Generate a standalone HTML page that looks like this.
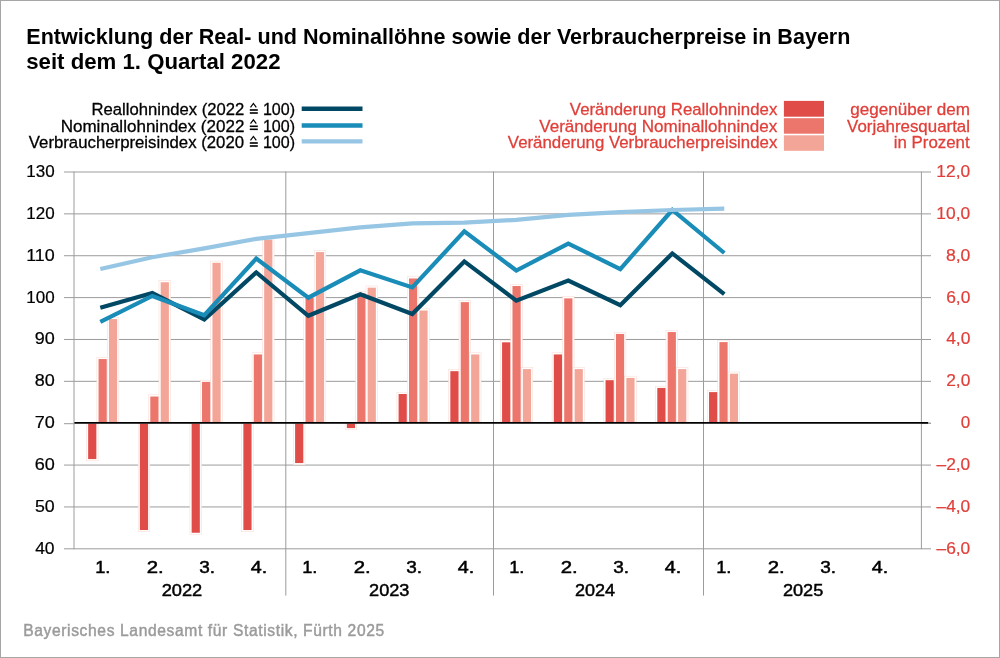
<!DOCTYPE html><html><head><meta charset="utf-8"><style>html,body{margin:0;padding:0;background:#fff;overflow:hidden;}svg{display:block;will-change:transform;} text{font-family:"Liberation Sans", sans-serif;}</style></head><body>
<svg width="1000" height="658" viewBox="0 0 1000 658">
<rect x="0" y="0" width="1000" height="658" fill="#fff"/>
<rect x="0.5" y="0.5" width="999" height="657" fill="none" stroke="#a6a6a6" stroke-width="1"/>
<line x1="74" y1="172.00" x2="921.4" y2="172.00" stroke="#9c9c9c" stroke-width="1"/>
<line x1="64" y1="172.00" x2="74" y2="172.00" stroke="#9c9c9c" stroke-width="1"/>
<line x1="921.4" y1="172.00" x2="931" y2="172.00" stroke="#9c9c9c" stroke-width="1"/>
<line x1="74" y1="213.87" x2="921.4" y2="213.87" stroke="#9c9c9c" stroke-width="1"/>
<line x1="64" y1="213.87" x2="74" y2="213.87" stroke="#9c9c9c" stroke-width="1"/>
<line x1="921.4" y1="213.87" x2="931" y2="213.87" stroke="#9c9c9c" stroke-width="1"/>
<line x1="74" y1="255.73" x2="921.4" y2="255.73" stroke="#9c9c9c" stroke-width="1"/>
<line x1="64" y1="255.73" x2="74" y2="255.73" stroke="#9c9c9c" stroke-width="1"/>
<line x1="921.4" y1="255.73" x2="931" y2="255.73" stroke="#9c9c9c" stroke-width="1"/>
<line x1="74" y1="297.60" x2="921.4" y2="297.60" stroke="#9c9c9c" stroke-width="1"/>
<line x1="64" y1="297.60" x2="74" y2="297.60" stroke="#9c9c9c" stroke-width="1"/>
<line x1="921.4" y1="297.60" x2="931" y2="297.60" stroke="#9c9c9c" stroke-width="1"/>
<line x1="74" y1="339.47" x2="921.4" y2="339.47" stroke="#9c9c9c" stroke-width="1"/>
<line x1="64" y1="339.47" x2="74" y2="339.47" stroke="#9c9c9c" stroke-width="1"/>
<line x1="921.4" y1="339.47" x2="931" y2="339.47" stroke="#9c9c9c" stroke-width="1"/>
<line x1="74" y1="381.34" x2="921.4" y2="381.34" stroke="#9c9c9c" stroke-width="1"/>
<line x1="64" y1="381.34" x2="74" y2="381.34" stroke="#9c9c9c" stroke-width="1"/>
<line x1="921.4" y1="381.34" x2="931" y2="381.34" stroke="#9c9c9c" stroke-width="1"/>
<line x1="64" y1="423.70" x2="74" y2="423.70" stroke="#9c9c9c" stroke-width="1"/>
<line x1="921.4" y1="423.20" x2="931" y2="423.20" stroke="#9c9c9c" stroke-width="1"/>
<line x1="74" y1="465.07" x2="921.4" y2="465.07" stroke="#9c9c9c" stroke-width="1"/>
<line x1="64" y1="465.07" x2="74" y2="465.07" stroke="#9c9c9c" stroke-width="1"/>
<line x1="921.4" y1="465.07" x2="931" y2="465.07" stroke="#9c9c9c" stroke-width="1"/>
<line x1="74" y1="506.94" x2="921.4" y2="506.94" stroke="#9c9c9c" stroke-width="1"/>
<line x1="64" y1="506.94" x2="74" y2="506.94" stroke="#9c9c9c" stroke-width="1"/>
<line x1="921.4" y1="506.94" x2="931" y2="506.94" stroke="#9c9c9c" stroke-width="1"/>
<line x1="74" y1="548.80" x2="921.4" y2="548.80" stroke="#9c9c9c" stroke-width="1"/>
<line x1="64" y1="548.80" x2="74" y2="548.80" stroke="#9c9c9c" stroke-width="1"/>
<line x1="921.4" y1="548.80" x2="931" y2="548.80" stroke="#9c9c9c" stroke-width="1"/>
<line x1="74" y1="171.5" x2="74" y2="549.2" stroke="#9c9c9c" stroke-width="1"/>
<line x1="921.4" y1="171.5" x2="921.4" y2="549.2" stroke="#9c9c9c" stroke-width="1"/>
<line x1="285.8" y1="171.5" x2="285.8" y2="595.6" stroke="#9c9c9c" stroke-width="1"/>
<line x1="493.5" y1="171.5" x2="493.5" y2="595.6" stroke="#9c9c9c" stroke-width="1"/>
<line x1="703.5" y1="171.5" x2="703.5" y2="595.6" stroke="#9c9c9c" stroke-width="1"/>
<rect x="86.45" y="423.70" width="11.60" height="37.09" fill="#fff" stroke="#f9dbd3" stroke-width="0.55"/>
<rect x="96.85" y="357.35" width="11.60" height="64.65" fill="#fff" stroke="#f9dbd3" stroke-width="0.55"/>
<rect x="107.25" y="317.38" width="11.60" height="104.62" fill="#fff" stroke="#f9dbd3" stroke-width="0.55"/>
<rect x="138.19" y="423.70" width="11.60" height="108.04" fill="#fff" stroke="#f9dbd3" stroke-width="0.55"/>
<rect x="148.59" y="394.82" width="11.60" height="27.18" fill="#fff" stroke="#f9dbd3" stroke-width="0.55"/>
<rect x="158.99" y="280.54" width="11.60" height="141.46" fill="#fff" stroke="#f9dbd3" stroke-width="0.55"/>
<rect x="189.93" y="423.70" width="11.60" height="110.76" fill="#fff" stroke="#f9dbd3" stroke-width="0.55"/>
<rect x="200.33" y="380.17" width="11.60" height="41.83" fill="#fff" stroke="#f9dbd3" stroke-width="0.55"/>
<rect x="210.73" y="261.08" width="11.60" height="160.92" fill="#fff" stroke="#f9dbd3" stroke-width="0.55"/>
<rect x="241.67" y="423.70" width="11.60" height="108.04" fill="#fff" stroke="#f9dbd3" stroke-width="0.55"/>
<rect x="252.07" y="352.75" width="11.60" height="69.25" fill="#fff" stroke="#f9dbd3" stroke-width="0.55"/>
<rect x="262.47" y="237.84" width="11.60" height="184.16" fill="#fff" stroke="#f9dbd3" stroke-width="0.55"/>
<rect x="293.41" y="423.70" width="11.60" height="41.07" fill="#fff" stroke="#f9dbd3" stroke-width="0.55"/>
<rect x="303.81" y="295.82" width="11.60" height="126.18" fill="#fff" stroke="#f9dbd3" stroke-width="0.55"/>
<rect x="314.21" y="250.40" width="11.60" height="171.60" fill="#fff" stroke="#f9dbd3" stroke-width="0.55"/>
<rect x="345.15" y="423.70" width="11.60" height="6.11" fill="#fff" stroke="#f9dbd3" stroke-width="0.55"/>
<rect x="355.55" y="291.63" width="11.60" height="130.37" fill="#fff" stroke="#f9dbd3" stroke-width="0.55"/>
<rect x="365.95" y="285.98" width="11.60" height="136.02" fill="#fff" stroke="#f9dbd3" stroke-width="0.55"/>
<rect x="396.89" y="392.31" width="11.60" height="29.69" fill="#fff" stroke="#f9dbd3" stroke-width="0.55"/>
<rect x="407.29" y="276.77" width="11.60" height="145.23" fill="#fff" stroke="#f9dbd3" stroke-width="0.55"/>
<rect x="417.69" y="308.80" width="11.60" height="113.20" fill="#fff" stroke="#f9dbd3" stroke-width="0.55"/>
<rect x="448.63" y="369.49" width="11.60" height="52.51" fill="#fff" stroke="#f9dbd3" stroke-width="0.55"/>
<rect x="459.03" y="300.42" width="11.60" height="121.58" fill="#fff" stroke="#f9dbd3" stroke-width="0.55"/>
<rect x="469.43" y="352.75" width="11.60" height="69.25" fill="#fff" stroke="#f9dbd3" stroke-width="0.55"/>
<rect x="500.37" y="340.61" width="11.60" height="81.39" fill="#fff" stroke="#f9dbd3" stroke-width="0.55"/>
<rect x="510.77" y="284.31" width="11.60" height="137.69" fill="#fff" stroke="#f9dbd3" stroke-width="0.55"/>
<rect x="521.17" y="367.40" width="11.60" height="54.60" fill="#fff" stroke="#f9dbd3" stroke-width="0.55"/>
<rect x="552.11" y="352.75" width="11.60" height="69.25" fill="#fff" stroke="#f9dbd3" stroke-width="0.55"/>
<rect x="562.51" y="296.66" width="11.60" height="125.34" fill="#fff" stroke="#f9dbd3" stroke-width="0.55"/>
<rect x="572.91" y="367.40" width="11.60" height="54.60" fill="#fff" stroke="#f9dbd3" stroke-width="0.55"/>
<rect x="603.85" y="378.49" width="11.60" height="43.51" fill="#fff" stroke="#f9dbd3" stroke-width="0.55"/>
<rect x="614.25" y="332.24" width="11.60" height="89.76" fill="#fff" stroke="#f9dbd3" stroke-width="0.55"/>
<rect x="624.65" y="376.19" width="11.60" height="45.81" fill="#fff" stroke="#f9dbd3" stroke-width="0.55"/>
<rect x="655.59" y="386.24" width="11.60" height="35.76" fill="#fff" stroke="#f9dbd3" stroke-width="0.55"/>
<rect x="665.99" y="330.35" width="11.60" height="91.65" fill="#fff" stroke="#f9dbd3" stroke-width="0.55"/>
<rect x="676.39" y="367.40" width="11.60" height="54.60" fill="#fff" stroke="#f9dbd3" stroke-width="0.55"/>
<rect x="707.33" y="390.42" width="11.60" height="31.58" fill="#fff" stroke="#f9dbd3" stroke-width="0.55"/>
<rect x="717.73" y="340.40" width="11.60" height="81.60" fill="#fff" stroke="#f9dbd3" stroke-width="0.55"/>
<rect x="728.13" y="372.01" width="11.60" height="49.99" fill="#fff" stroke="#f9dbd3" stroke-width="0.55"/>
<rect x="88.15" y="423.70" width="8.20" height="35.39" fill="#e04c48"/>
<rect x="98.55" y="359.05" width="8.20" height="62.95" fill="#ec766c"/>
<rect x="108.95" y="319.08" width="8.20" height="102.92" fill="#f3a598"/>
<rect x="139.89" y="423.70" width="8.20" height="106.34" fill="#e04c48"/>
<rect x="150.29" y="396.52" width="8.20" height="25.48" fill="#ec766c"/>
<rect x="160.69" y="282.24" width="8.20" height="139.76" fill="#f3a598"/>
<rect x="191.63" y="423.70" width="8.20" height="109.06" fill="#e04c48"/>
<rect x="202.03" y="381.87" width="8.20" height="40.13" fill="#ec766c"/>
<rect x="212.43" y="262.78" width="8.20" height="159.22" fill="#f3a598"/>
<rect x="243.37" y="423.70" width="8.20" height="106.34" fill="#e04c48"/>
<rect x="253.77" y="354.45" width="8.20" height="67.55" fill="#ec766c"/>
<rect x="264.17" y="239.54" width="8.20" height="182.46" fill="#f3a598"/>
<rect x="295.11" y="423.70" width="8.20" height="39.37" fill="#e04c48"/>
<rect x="305.51" y="297.52" width="8.20" height="124.48" fill="#ec766c"/>
<rect x="315.91" y="252.10" width="8.20" height="169.90" fill="#f3a598"/>
<rect x="346.85" y="423.70" width="8.20" height="4.41" fill="#e04c48"/>
<rect x="357.25" y="293.33" width="8.20" height="128.67" fill="#ec766c"/>
<rect x="367.65" y="287.68" width="8.20" height="134.32" fill="#f3a598"/>
<rect x="398.59" y="394.01" width="8.20" height="27.99" fill="#e04c48"/>
<rect x="408.99" y="278.47" width="8.20" height="143.53" fill="#ec766c"/>
<rect x="419.39" y="310.50" width="8.20" height="111.50" fill="#f3a598"/>
<rect x="450.33" y="371.19" width="8.20" height="50.81" fill="#e04c48"/>
<rect x="460.73" y="302.12" width="8.20" height="119.88" fill="#ec766c"/>
<rect x="471.13" y="354.45" width="8.20" height="67.55" fill="#f3a598"/>
<rect x="502.07" y="342.31" width="8.20" height="79.69" fill="#e04c48"/>
<rect x="512.47" y="286.01" width="8.20" height="135.99" fill="#ec766c"/>
<rect x="522.87" y="369.10" width="8.20" height="52.90" fill="#f3a598"/>
<rect x="553.81" y="354.45" width="8.20" height="67.55" fill="#e04c48"/>
<rect x="564.21" y="298.36" width="8.20" height="123.64" fill="#ec766c"/>
<rect x="574.61" y="369.10" width="8.20" height="52.90" fill="#f3a598"/>
<rect x="605.55" y="380.19" width="8.20" height="41.81" fill="#e04c48"/>
<rect x="615.95" y="333.94" width="8.20" height="88.06" fill="#ec766c"/>
<rect x="626.35" y="377.89" width="8.20" height="44.11" fill="#f3a598"/>
<rect x="657.29" y="387.94" width="8.20" height="34.06" fill="#e04c48"/>
<rect x="667.69" y="332.05" width="8.20" height="89.95" fill="#ec766c"/>
<rect x="678.09" y="369.10" width="8.20" height="52.90" fill="#f3a598"/>
<rect x="709.03" y="392.12" width="8.20" height="29.88" fill="#e04c48"/>
<rect x="719.43" y="342.10" width="8.20" height="79.90" fill="#ec766c"/>
<rect x="729.83" y="373.71" width="8.20" height="48.29" fill="#f3a598"/>
<line x1="74.4" y1="422.8" x2="928.2" y2="422.8" stroke="#000" stroke-width="1.8"/>
<line x1="928.2" y1="423.3" x2="931" y2="423.3" stroke="#9c9c9c" stroke-width="1"/>
<polyline points="100.30,307.73 152.30,293.08 204.30,319.47 256.30,272.43 308.30,315.75 360.30,294.27 412.30,314.07 464.30,261.42 516.30,300.63 568.30,280.50 620.30,305.12 672.30,253.45 724.30,294.18" fill="none" stroke="#004864" stroke-width="4.2" stroke-linejoin="miter" stroke-miterlimit="10"/>
<polyline points="100.30,321.97 152.30,295.92 204.30,315.28 256.30,258.46 308.30,297.67 360.30,270.33 412.30,287.45 464.30,231.34 516.30,270.50 568.30,243.56 620.30,269.07 672.30,210.00 724.30,253.00" fill="none" stroke="#198cb8" stroke-width="4.2" stroke-linejoin="miter" stroke-miterlimit="10"/>
<polyline points="100.30,269.00 152.30,257.29 204.30,248.31 256.30,238.90 308.30,233.04 360.30,227.33 412.30,223.31 464.30,222.71 516.30,219.86 568.30,214.80 620.30,212.20 672.30,210.00 724.30,208.60" fill="none" stroke="#96c6e4" stroke-width="4.2" stroke-linejoin="miter" stroke-miterlimit="10"/>
<line x1="301.7" y1="108.8" x2="362.5" y2="108.8" stroke="#004864" stroke-width="4.4"/>
<line x1="301.7" y1="125.5" x2="362.5" y2="125.5" stroke="#198cb8" stroke-width="4.4"/>
<line x1="301.7" y1="141.4" x2="362.5" y2="141.4" stroke="#96c6e4" stroke-width="4.4"/>
<rect x="783.9" y="100.9" width="40.1" height="15.8" fill="#e04c48"/>
<rect x="783.9" y="118.2" width="40.1" height="15.5" fill="#ec766c"/>
<rect x="783.9" y="135.3" width="40.1" height="15.5" fill="#f3a598"/>
<text x="26.30" y="43.90" font-size="21.40" font-weight="bold" fill="#000" textLength="824.13" lengthAdjust="spacingAndGlyphs">Entwicklung der Real- und Nominallöhne sowie der Verbraucherpreise in Bayern</text>
<text x="26.25" y="68.80" font-size="21.40" font-weight="bold" fill="#000" textLength="254.25" lengthAdjust="spacingAndGlyphs">seit dem 1. Quartal 2022</text>
<text x="91.55" y="115.30" font-size="17.20" font-weight="normal" fill="#000" stroke="#000" stroke-width="0.30" textLength="152.71" lengthAdjust="spacingAndGlyphs">Reallohnindex (2022</text>
<text x="60.65" y="131.60" font-size="17.20" font-weight="normal" fill="#000" stroke="#000" stroke-width="0.30" textLength="183.81" lengthAdjust="spacingAndGlyphs">Nominallohnindex (2022</text>
<text x="28.80" y="148.30" font-size="17.20" font-weight="normal" fill="#000" stroke="#000" stroke-width="0.30" textLength="215.31" lengthAdjust="spacingAndGlyphs">Verbraucherpreisindex (2020</text>
<text x="262.90" y="115.30" font-size="17.20" font-weight="normal" fill="#000" stroke="#000" stroke-width="0.30" textLength="32.11" lengthAdjust="spacingAndGlyphs">100)</text>
<text x="262.90" y="131.60" font-size="17.20" font-weight="normal" fill="#000" stroke="#000" stroke-width="0.30" textLength="32.11" lengthAdjust="spacingAndGlyphs">100)</text>
<text x="262.90" y="148.30" font-size="17.20" font-weight="normal" fill="#000" stroke="#000" stroke-width="0.30" textLength="32.11" lengthAdjust="spacingAndGlyphs">100)</text>
<text x="569.85" y="114.60" font-size="17.20" font-weight="normal" fill="#e03f39" stroke="#e03f39" stroke-width="0.30" textLength="207.46" lengthAdjust="spacingAndGlyphs">Veränderung Reallohnindex</text>
<text x="539.25" y="132.00" font-size="17.20" font-weight="normal" fill="#e03f39" stroke="#e03f39" stroke-width="0.30" textLength="238.05" lengthAdjust="spacingAndGlyphs">Veränderung Nominallohnindex</text>
<text x="507.85" y="147.70" font-size="17.20" font-weight="normal" fill="#e03f39" stroke="#e03f39" stroke-width="0.30" textLength="269.49" lengthAdjust="spacingAndGlyphs">Veränderung Verbraucherpreisindex</text>
<text x="850.30" y="114.50" font-size="17.20" font-weight="normal" fill="#e03f39" stroke="#e03f39" stroke-width="0.30" textLength="119.55" lengthAdjust="spacingAndGlyphs">gegenüber dem</text>
<text x="847.05" y="131.90" font-size="17.20" font-weight="normal" fill="#e03f39" stroke="#e03f39" stroke-width="0.30" textLength="122.96" lengthAdjust="spacingAndGlyphs">Vorjahresquartal</text>
<text x="893.80" y="147.60" font-size="17.20" font-weight="normal" fill="#e03f39" stroke="#e03f39" stroke-width="0.30" textLength="75.82" lengthAdjust="spacingAndGlyphs">in Prozent</text>
<text x="23.20" y="635.80" font-size="15.60" font-weight="normal" fill="#9b9b9b" stroke="#9b9b9b" stroke-width="0.45" textLength="361.00" lengthAdjust="spacing">Bayerisches Landesamt für Statistik, Fürth 2025</text>
<text x="26.25" y="177.00" font-size="15.80" font-weight="normal" fill="#000" stroke="#000" stroke-width="0.20" textLength="28.38" lengthAdjust="spacingAndGlyphs">130</text>
<text x="26.25" y="218.87" font-size="15.80" font-weight="normal" fill="#000" stroke="#000" stroke-width="0.20" textLength="28.38" lengthAdjust="spacingAndGlyphs">120</text>
<text x="26.25" y="260.73" font-size="15.80" font-weight="normal" fill="#000" stroke="#000" stroke-width="0.20" textLength="28.53" lengthAdjust="spacingAndGlyphs">110</text>
<text x="26.25" y="302.60" font-size="15.80" font-weight="normal" fill="#000" stroke="#000" stroke-width="0.20" textLength="28.38" lengthAdjust="spacingAndGlyphs">100</text>
<text x="34.65" y="344.47" font-size="15.80" font-weight="normal" fill="#000" stroke="#000" stroke-width="0.20" textLength="20.03" lengthAdjust="spacingAndGlyphs">90</text>
<text x="34.65" y="386.34" font-size="15.80" font-weight="normal" fill="#000" stroke="#000" stroke-width="0.20" textLength="20.03" lengthAdjust="spacingAndGlyphs">80</text>
<text x="34.65" y="428.20" font-size="15.80" font-weight="normal" fill="#000" stroke="#000" stroke-width="0.20" textLength="20.07" lengthAdjust="spacingAndGlyphs">70</text>
<text x="34.65" y="470.07" font-size="15.80" font-weight="normal" fill="#000" stroke="#000" stroke-width="0.20" textLength="20.07" lengthAdjust="spacingAndGlyphs">60</text>
<text x="34.90" y="511.94" font-size="15.80" font-weight="normal" fill="#000" stroke="#000" stroke-width="0.20" textLength="19.76" lengthAdjust="spacingAndGlyphs">50</text>
<text x="35.15" y="553.80" font-size="15.80" font-weight="normal" fill="#000" stroke="#000" stroke-width="0.20" textLength="19.47" lengthAdjust="spacingAndGlyphs">40</text>
<text x="936.38" y="177.04" font-size="15.80" font-weight="normal" fill="#e03f39" stroke="#e03f39" stroke-width="0.20" textLength="33.85" lengthAdjust="spacingAndGlyphs">12,0</text>
<text x="936.38" y="218.90" font-size="15.80" font-weight="normal" fill="#e03f39" stroke="#e03f39" stroke-width="0.20" textLength="33.85" lengthAdjust="spacingAndGlyphs">10,0</text>
<text x="945.95" y="260.76" font-size="15.80" font-weight="normal" fill="#e03f39" stroke="#e03f39" stroke-width="0.20" textLength="24.49" lengthAdjust="spacingAndGlyphs">8,0</text>
<text x="946.22" y="302.62" font-size="15.80" font-weight="normal" fill="#e03f39" stroke="#e03f39" stroke-width="0.20" textLength="24.14" lengthAdjust="spacingAndGlyphs">6,0</text>
<text x="946.17" y="344.48" font-size="15.80" font-weight="normal" fill="#e03f39" stroke="#e03f39" stroke-width="0.20" textLength="24.30" lengthAdjust="spacingAndGlyphs">4,0</text>
<text x="946.22" y="386.34" font-size="15.80" font-weight="normal" fill="#e03f39" stroke="#e03f39" stroke-width="0.20" textLength="24.14" lengthAdjust="spacingAndGlyphs">2,0</text>
<text x="960.77" y="428.20" font-size="15.80" font-weight="normal" fill="#e03f39" stroke="#e03f39" stroke-width="0.20" textLength="9.48" lengthAdjust="spacingAndGlyphs">0</text>
<text x="936.50" y="470.06" font-size="15.80" font-weight="normal" fill="#e03f39" stroke="#e03f39" stroke-width="0.20" textLength="33.73" lengthAdjust="spacingAndGlyphs">–2,0</text>
<text x="936.50" y="511.92" font-size="15.80" font-weight="normal" fill="#e03f39" stroke="#e03f39" stroke-width="0.20" textLength="33.73" lengthAdjust="spacingAndGlyphs">–4,0</text>
<text x="936.50" y="553.78" font-size="15.80" font-weight="normal" fill="#e03f39" stroke="#e03f39" stroke-width="0.20" textLength="33.73" lengthAdjust="spacingAndGlyphs">–6,0</text>
<text x="95.20" y="572.80" font-size="15.80" font-weight="normal" fill="#000" stroke="#000" stroke-width="0.45" textLength="15.23" lengthAdjust="spacingAndGlyphs">1.</text>
<text x="146.75" y="572.80" font-size="15.80" font-weight="normal" fill="#000" stroke="#000" stroke-width="0.45" textLength="16.97" lengthAdjust="spacingAndGlyphs">2.</text>
<text x="199.15" y="572.80" font-size="15.80" font-weight="normal" fill="#000" stroke="#000" stroke-width="0.45" textLength="15.83" lengthAdjust="spacingAndGlyphs">3.</text>
<text x="250.70" y="572.80" font-size="15.80" font-weight="normal" fill="#000" stroke="#000" stroke-width="0.45" textLength="16.44" lengthAdjust="spacingAndGlyphs">4.</text>
<text x="302.20" y="572.80" font-size="15.80" font-weight="normal" fill="#000" stroke="#000" stroke-width="0.45" textLength="15.23" lengthAdjust="spacingAndGlyphs">1.</text>
<text x="353.75" y="572.80" font-size="15.80" font-weight="normal" fill="#000" stroke="#000" stroke-width="0.45" textLength="16.97" lengthAdjust="spacingAndGlyphs">2.</text>
<text x="406.15" y="572.80" font-size="15.80" font-weight="normal" fill="#000" stroke="#000" stroke-width="0.45" textLength="15.83" lengthAdjust="spacingAndGlyphs">3.</text>
<text x="457.70" y="572.80" font-size="15.80" font-weight="normal" fill="#000" stroke="#000" stroke-width="0.45" textLength="16.44" lengthAdjust="spacingAndGlyphs">4.</text>
<text x="509.20" y="572.80" font-size="15.80" font-weight="normal" fill="#000" stroke="#000" stroke-width="0.45" textLength="15.23" lengthAdjust="spacingAndGlyphs">1.</text>
<text x="560.75" y="572.80" font-size="15.80" font-weight="normal" fill="#000" stroke="#000" stroke-width="0.45" textLength="16.97" lengthAdjust="spacingAndGlyphs">2.</text>
<text x="613.15" y="572.80" font-size="15.80" font-weight="normal" fill="#000" stroke="#000" stroke-width="0.45" textLength="15.83" lengthAdjust="spacingAndGlyphs">3.</text>
<text x="664.70" y="572.80" font-size="15.80" font-weight="normal" fill="#000" stroke="#000" stroke-width="0.45" textLength="16.44" lengthAdjust="spacingAndGlyphs">4.</text>
<text x="716.20" y="572.80" font-size="15.80" font-weight="normal" fill="#000" stroke="#000" stroke-width="0.45" textLength="15.23" lengthAdjust="spacingAndGlyphs">1.</text>
<text x="767.75" y="572.80" font-size="15.80" font-weight="normal" fill="#000" stroke="#000" stroke-width="0.45" textLength="16.97" lengthAdjust="spacingAndGlyphs">2.</text>
<text x="820.15" y="572.80" font-size="15.80" font-weight="normal" fill="#000" stroke="#000" stroke-width="0.45" textLength="15.83" lengthAdjust="spacingAndGlyphs">3.</text>
<text x="871.70" y="572.80" font-size="15.80" font-weight="normal" fill="#000" stroke="#000" stroke-width="0.45" textLength="16.44" lengthAdjust="spacingAndGlyphs">4.</text>
<text x="161.65" y="596.20" font-size="16.40" font-weight="normal" fill="#000" stroke="#000" stroke-width="0.45" textLength="40.63" lengthAdjust="spacingAndGlyphs">2022</text>
<text x="369.05" y="596.20" font-size="16.40" font-weight="normal" fill="#000" stroke="#000" stroke-width="0.45" textLength="40.37" lengthAdjust="spacingAndGlyphs">2023</text>
<text x="574.95" y="596.20" font-size="16.40" font-weight="normal" fill="#000" stroke="#000" stroke-width="0.45" textLength="40.09" lengthAdjust="spacingAndGlyphs">2024</text>
<text x="782.95" y="596.20" font-size="16.40" font-weight="normal" fill="#000" stroke="#000" stroke-width="0.45" textLength="40.37" lengthAdjust="spacingAndGlyphs">2025</text>
<rect x="249.8" y="109.20" width="8.0" height="1.6" fill="#000"/>
<rect x="249.8" y="112.20" width="8.0" height="1.6" fill="#000"/>
<polyline points="250.5,107.30 253.4,103.50 256.3,107.30" fill="none" stroke="#000" stroke-width="1.2"/>
<rect x="249.8" y="125.50" width="8.0" height="1.6" fill="#000"/>
<rect x="249.8" y="128.50" width="8.0" height="1.6" fill="#000"/>
<polyline points="250.5,123.60 253.4,119.80 256.3,123.60" fill="none" stroke="#000" stroke-width="1.2"/>
<rect x="249.8" y="142.20" width="8.0" height="1.6" fill="#000"/>
<rect x="249.8" y="145.20" width="8.0" height="1.6" fill="#000"/>
<polyline points="250.5,140.30 253.4,136.50 256.3,140.30" fill="none" stroke="#000" stroke-width="1.2"/>
</svg></body></html>
